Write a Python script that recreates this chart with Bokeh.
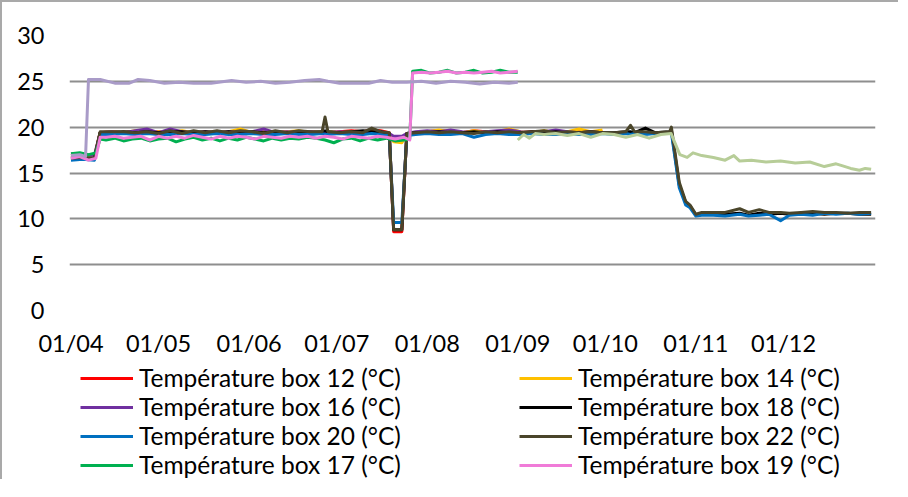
from datetime import datetime, timedelta

from bokeh.plotting import figure
from bokeh.layouts import column
from bokeh.models import (Range1d, FixedTicker, DatetimeTickFormatter, Legend,
                          LegendItem, ColumnDataSource)
from bokeh.embed import file_html
from bokeh.resources import INLINE

# ---------------- data ----------------
START = "2021-04-01"
TICK_DATES = ["2021-04-01", "2021-05-01", "2021-06-01", "2021-07-01", "2021-08-01",
              "2021-09-01", "2021-10-01", "2021-11-01", "2021-12-01"]
Y_TICKS = [0, 5, 10, 15, 20, 25, 30]

# day offsets from START
DAYS_A = [0, 4, 8, 10, 14, 18, 22, 26, 30, 34,
          38, 42, 46, 50, 54, 58, 62, 66, 70, 74,
          78, 82, 86, 87, 88, 92, 96, 100, 103, 106,
          109, 110.5, 113.3, 115, 118, 122, 126, 130, 134, 138,
          142, 146, 150, 154, 158, 162, 166, 170, 174, 178, 182]

BOX12 = [16.7, 16.8, 16.7, 19.4, 19.5, 19.4, 19.5, 19.4, 19.5, 19.4,
         19.4, 19.5, 19.4, 19.5, 19.4, 19.5, 19.4, 19.5, 19.4, 19.5,
         19.4, 19.5, 19.4, 19.5, 19.4, 19.5, 19.6, 19.5, 19.7, 19.6,
         19.4, 8.6, 8.6, 19.3, 19.4, 19.5, 19.6, 19.5, 19.4, 19.6,
         19.5, 19.4, 19.5, 19.4, 19.5, 19.4, 19.5, 19.4, 19.5, 19.4, 19.5]
BOX14 = [16.9, 17.0, 16.8, 19.4, 19.5, 19.4, 19.6, 19.4, 19.5, 19.4,
         19.6, 19.4, 19.5, 19.4, 19.5, 19.8, 19.4, 19.5, 19.4, 19.5,
         19.6, 19.4, 19.5, 19.4, 19.5, 19.4, 19.5, 19.4, 19.5, 19.4,
         19.2, 18.4, 18.3, 19.2, 19.4, 19.5, 19.7, 19.5, 19.4, 19.6,
         19.4, 19.5, 19.8, 19.5, 19.4, 19.6, 19.4, 19.5, 19.8, 19.5, 19.7]
BOX16 = [17.1, 17.0, 16.9, 19.4, 19.5, 19.4, 19.6, 19.8, 19.4, 19.8,
         19.5, 19.4, 19.5, 19.4, 19.5, 19.4, 19.5, 19.8, 19.4, 19.5,
         19.4, 19.5, 19.4, 19.5, 19.4, 19.5, 19.4, 19.5, 19.4, 19.5,
         19.3, 19.0, 19.0, 19.3, 19.5, 19.6, 19.5, 19.7, 19.5, 19.4,
         19.5, 19.6, 19.7, 19.5, 19.4, 19.5, 19.7, 19.5, 19.4, 19.5, 19.4]

DAYS_B = [0, 4, 8, 10, 14, 18, 22, 26, 30, 34,
          38, 42, 46, 50, 54, 58, 62, 66, 70, 74,
          78, 82, 86, 87, 88, 92, 96, 100, 103, 106,
          109, 110.5, 113.3, 115, 118, 122, 126, 130, 134, 138,
          142, 146, 150, 154, 158, 162, 166, 170, 174, 178, 182,
          186, 190, 191.6, 193, 196.7, 200, 205, 205.6, 208.3, 210.5,
          212, 214, 216, 220, 224, 229, 232, 235.7, 239, 243,
          246, 250, 254, 258, 262, 266, 270, 274]

BOX18 = [16.5, 16.6, 16.5, 19.4, 19.4, 19.5, 19.4, 19.5, 19.4, 19.5,
         19.5, 19.4, 19.5, 19.4, 19.5, 19.4, 19.5, 19.4, 19.5, 19.4,
         19.5, 19.4, 19.5, 19.6, 19.5, 19.4, 19.5, 19.6, 19.5, 19.5,
         19.3, 8.8, 8.8, 19.3, 19.4, 19.4, 19.5, 19.4, 19.4, 19.5,
         19.4, 19.5, 19.4, 19.4, 19.5, 19.4, 19.5, 19.4, 19.4, 19.5, 19.4,
         19.4, 19.5, 19.5, 19.4, 19.9, 19.4, 19.5, 19.7, 13.7, 11.8,
         11.4, 10.4, 10.6, 10.6, 10.5, 10.6, 10.4, 10.6, 10.5, 10.6,
         10.5, 10.6, 10.6, 10.5, 10.6, 10.6, 10.5, 10.5]
BOX20 = [16.4, 16.5, 16.4, 19.2, 19.2, 19.3, 19.2, 19.3, 19.2, 19.2,
         19.3, 19.2, 19.2, 19.3, 19.2, 19.2, 19.3, 19.2, 19.2, 19.3,
         19.2, 19.2, 19.3, 19.2, 19.2, 19.3, 19.2, 19.2, 19.3, 19.2,
         19.1, 9.6, 9.6, 19.1, 19.2, 19.3, 19.2, 19.2, 19.3, 18.9,
         19.2, 19.3, 19.2, 19.2, 19.3, 19.2, 19.2, 19.3, 19.2, 19.2, 19.3,
         19.2, 19.3, 19.2, 19.3, 19.2, 19.3, 19.3, 19.4, 13.4, 11.5,
         11.2, 10.3, 10.4, 10.4, 10.3, 10.5, 10.3, 10.4, 10.5, 9.8,
         10.4, 10.5, 10.4, 10.6, 10.5, 10.6, 10.5, 10.6]
BOX22 = [16.6, 16.7, 16.6, 19.5, 19.5, 19.5, 19.4, 19.5, 19.3, 19.6,
         19.3, 19.6, 19.4, 19.6, 19.4, 19.6, 19.5, 19.3, 19.6, 19.4,
         19.6, 19.5, 19.5, 21.1, 19.5, 19.4, 19.5, 19.4, 19.9, 19.5,
         19.4, 8.8, 8.8, 19.3, 19.4, 19.5, 19.4, 19.5, 19.4, 19.3,
         19.5, 19.4, 19.5, 19.4, 19.5, 19.6, 19.4, 19.5, 19.4, 19.5, 19.4,
         19.4, 19.5, 20.2, 19.5, 19.5, 19.4, 19.5, 20.0, 14.0, 11.9,
         11.5, 10.5, 10.7, 10.7, 10.7, 11.1, 10.7, 11.0, 10.7, 10.7,
         10.6, 10.7, 10.8, 10.7, 10.7, 10.6, 10.7, 10.7]

DAYS_C = [0, 3, 6, 8.5, 10, 12, 15, 18, 21, 24,
          27, 30, 33, 36, 39, 42, 45, 48, 51, 54,
          57, 60, 63, 66, 69, 72, 75, 78, 81, 84,
          87, 90, 93, 96, 99, 102, 105, 108, 111, 114,
          116, 117, 120, 123, 126, 129, 132, 135, 138, 141,
          144, 147, 150, 153]
BOX17 = [17.1, 17.2, 17.0, 17.2, 18.7, 18.6, 18.8, 18.5, 18.7, 18.8,
         18.5, 18.7, 18.8, 18.4, 18.7, 18.9, 18.6, 18.8, 18.5, 18.8,
         18.6, 18.9, 18.7, 18.5, 18.8, 18.6, 18.8, 18.7, 18.9, 18.8,
         18.6, 18.3, 18.7, 18.8, 18.5, 18.8, 18.6, 18.8, 18.5, 18.6,
         18.7, 26.1, 26.2, 25.9, 26.0, 26.2, 25.9, 26.0, 26.2, 25.9,
         26.0, 26.2, 26.0, 26.0]
BOX19 = [16.6, 16.8, 16.4, 16.6, 18.9, 18.9, 19.0, 18.8, 18.9, 19.0,
         18.6, 19.0, 18.8, 19.0, 18.8, 19.1, 18.9, 18.7, 19.0, 18.8,
         19.0, 18.9, 18.7, 19.0, 18.9, 18.8, 19.0, 18.9, 19.0, 18.8,
         19.0, 18.9, 18.7, 19.0, 18.9, 18.8, 19.0, 18.9, 18.7, 18.9,
         18.6, 25.9, 26.0, 25.9, 26.0, 26.1, 25.9, 26.0, 25.9, 26.0,
         26.1, 25.9, 26.0, 26.1]

DAYS_L = [0, 3, 5, 6, 10, 15, 20, 23, 27, 32, 37, 42, 48, 55, 60, 65, 70, 75,
          80, 85, 88, 92, 97, 102, 106, 110, 115, 120, 125, 130, 135, 140, 145,
          150, 153]
LAVENDER = [16.9, 17.0, 16.8, 25.2, 25.2, 24.8, 24.8, 25.2, 25.1, 24.8,
            24.9, 24.8, 24.8, 25.1, 24.9, 25.0, 24.8, 24.9, 25.1, 25.2,
            25.0, 24.8, 24.8, 24.8, 25.1, 24.9, 24.9, 25.0, 24.8, 25.0,
            24.9, 24.7, 24.9, 24.8, 24.9]

DAYS_P = [153, 155, 157, 159, 162, 166, 170, 174, 178, 182, 186, 190, 194,
          198, 202, 205.5, 208.5, 211, 213, 216, 220, 224, 227, 229, 233,
          238, 243, 248, 253, 258, 262, 264, 267, 270, 272, 274]
PALEGREEN = [18.6, 19.2, 18.8, 19.3, 19.2, 19.3, 19.1, 19.3, 18.9, 19.3,
             19.2, 18.9, 19.2, 18.8, 19.2, 19.3, 17.0, 16.7, 17.2, 16.9,
             16.7, 16.4, 16.9, 16.3, 16.4, 16.2, 16.3, 16.1, 16.2, 15.7,
             16.0, 15.8, 15.5, 15.3, 15.5, 15.4]

LABELS = ["Température box 12 (°C)", "Température box 14 (°C)",
          "Température box 16 (°C)", "Température box 18 (°C)",
          "Température box 20 (°C)", "Température box 22 (°C)",
          "Température box 17 (°C)", "Température box 19 (°C)"]

# ---------------- styling ----------------
FONT = "Lato"
FS = "23.5px"
LEG_FS = "24.5px"
BORDER = "2px solid #a9a9a9"

start = datetime.strptime(START, "%Y-%m-%d")


def to_dates(days):
    return [start + timedelta(days=d) for d in days]


def ms(dt):
    return (dt - datetime(1970, 1, 1)).total_seconds() * 1000.0


p = figure(width=898, height=359, output_backend="svg", toolbar_location=None,
           x_axis_type="datetime",
           x_range=Range1d(start - timedelta(hours=12),
                           start + timedelta(days=275, hours=12)),
           y_range=Range1d(0, 30),
           min_border_left=67, min_border_right=25, min_border_top=33,
           min_border_bottom=51)
p.styles = {"border-left": BORDER, "border-top": BORDER}
p.outline_line_color = None
p.background_fill_color = "white"
p.border_fill_color = "white"

p.xgrid.visible = False
p.ygrid.grid_line_color = "#8e8e8e"
p.ygrid.grid_line_width = 2

p.yaxis.ticker = FixedTicker(ticks=Y_TICKS)
p.xaxis.ticker = FixedTicker(ticks=[ms(datetime.strptime(d, "%Y-%m-%d")) for d in TICK_DATES])
fmt = "%d/%m"
p.xaxis.formatter = DatetimeTickFormatter(milliseconds=fmt, seconds=fmt, minsec=fmt,
                                          minutes=fmt, hourmin=fmt, hours=fmt,
                                          days=fmt, months=fmt, years=fmt)
for ax in (p.xaxis[0], p.yaxis[0]):
    ax.axis_line_color = None
    ax.major_tick_line_color = None
    ax.minor_tick_line_color = None
    ax.major_tick_in = 0
    ax.major_tick_out = 0
    ax.minor_tick_in = 0
    ax.minor_tick_out = 0
    ax.major_label_text_font = FONT
    ax.major_label_text_font_size = FS
    ax.major_label_text_color = "black"
p.xaxis.major_label_standoff = 18
p.yaxis.major_label_standoff = 25

series = [
    (DAYS_A, BOX12, "#ff0000"),
    (DAYS_A, BOX14, "#ffc000"),
    (DAYS_A, BOX16, "#7030a0"),
    (DAYS_B, BOX18, "#000000"),
    (DAYS_B, BOX20, "#0070c0"),
    (DAYS_B, BOX22, "#4a452a"),
    (DAYS_C, BOX17, "#00b050"),
    (DAYS_C, BOX19, "#f07bd8"),
    (DAYS_L, LAVENDER, "#a99bc8"),
    (DAYS_P, PALEGREEN, "#b7cd98"),
]
for days, vals, col in series:
    src = ColumnDataSource(data=dict(x=to_dates(days), y=vals))
    p.line("x", "y", source=src, line_color=col, line_width=3, line_join="round")

# ---------------- legend panel (second figure below the chart) ----------------
leg = figure(width=898, height=120, output_backend="svg", toolbar_location=None,
             x_range=Range1d(0, 1), y_range=Range1d(0, 1),
             x_axis_location=None, y_axis_location=None,
             min_border_left=67, min_border_right=25, min_border_top=0,
             min_border_bottom=0)
leg.styles = {"border-left": BORDER}
leg.grid.visible = False
leg.outline_line_color = None
leg.background_fill_color = "white"
leg.border_fill_color = "white"

# keys only: placed outside the visible range of the legend panel
legend_renderers = []
for i in range(8):
    _, _, col = series[i]
    legend_renderers.append(
        leg.line(x=[-5, -4], y=[-5, -4], line_color=col, line_width=3))


def make_legend(idx, x):
    items = [LegendItem(label=LABELS[i], renderers=[legend_renderers[i]]) for i in idx]
    return Legend(items=items, location=(x, 0), orientation="vertical",
                  border_line_color=None, background_fill_alpha=0,
                  padding=0, margin=0, spacing=0,
                  glyph_width=53, glyph_height=20, label_standoff=6,
                  label_height=20,
                  label_text_font=FONT, label_text_font_size=LEG_FS,
                  label_text_color="black")


leg.add_layout(make_legend([0, 2, 4, 6], 11), "center")
leg.add_layout(make_legend([1, 3, 5, 7], 450), "center")

layout = column(p, leg, spacing=0)
open("out.html", "w").write(file_html(layout, INLINE))
